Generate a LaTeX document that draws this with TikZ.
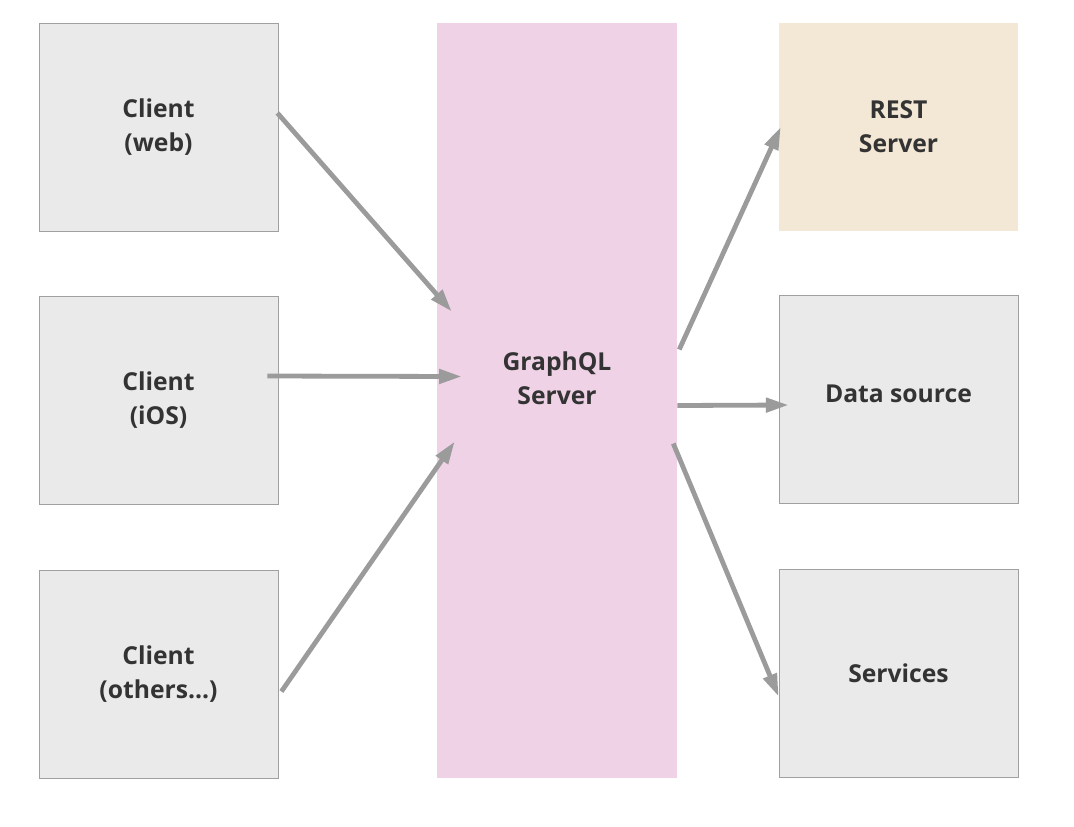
\documentclass[tikz,border=0pt]{standalone}
\usepackage{fontspec}
\setmainfont{Open Sans}
\usetikzlibrary{arrows.meta}
\definecolor{boxgrey}{RGB}{234,234,234}
\definecolor{edgegrey}{RGB}{160,160,160}
\definecolor{arrowgrey}{RGB}{155,155,155}
\definecolor{gqlpink}{RGB}{240,210,231}
\definecolor{restbeige}{RGB}{243,231,214}
\definecolor{txtdark}{RGB}{51,51,51}
\tikzset{
	greybox/.style={draw=edgegrey, line width=0.6pt, fill=boxgrey, minimum width=179.25pt, minimum height=156pt, inner sep=0pt},
	pinkbox/.style={fill=gqlpink, minimum width=180pt, minimum height=566.25pt, inner sep=0pt},
	restbox/.style={fill=restbeige, minimum width=179.25pt, minimum height=156pt, inner sep=0pt},
	boxtext/.style={text=txtdark, font=\fontsize{18.5}{25.5}\selectfont\bfseries, align=center},
	flow/.style={draw=arrowgrey, line width=3.6pt, -{Triangle[length=17pt,width=10.5pt]}}
}

\begin{document}
\begin{tikzpicture}[x=0.75pt, y=-0.75pt]
		%%%%% START %%%%%
		\useasboundingbox (0,0) rectangle (1074,826);
		
		\node[greybox, boxtext] (web) at (158.5,127) {Client\\(web)};
		\node[greybox, boxtext] (ios) at (158.5,400) {Client\\(iOS)};
		\node[greybox, boxtext] (others) at (158.5,674.5) {Client\\(others...)};
		
		\node[pinkbox] (gql) at (557,400.5) {};
		\node[boxtext] (gqllabel) at (557,378) {GraphQL\\Server};
		
		\node[restbox, boxtext] (rest) at (898.5,127) {REST\\Server};
		\node[greybox] (data) at (898.5,399) {};
		\node[boxtext] (datalabel) at (898.5,394) {Data source};
		\node[greybox, boxtext] (services) at (898.5,673.5) {Services};
		
		\draw[flow] ([shift={(-1,-14)}]web.east) -- ([shift={(15,-89)}]gql.west);
		\draw[flow] ([shift={(-11,-24)}]ios.east) -- ([shift={(25,-24)}]gql.west);
		\draw[flow] ([shift={(3,17)}]others.east) -- ([shift={(18,41)}]gql.west);
		
		\draw[flow] ([shift={(2,-51)}]gql.east) -- ([shift={(2,0)}]rest.west);
		\draw[flow] ([shift={(0,5)}]gql.east) -- ([shift={(10,6)}]data.west);
		\draw[flow] ([shift={(-4,43)}]gql.east) -- ([shift={(0,23)}]services.west);
		
		%%%%% END %%%%%
	\end{tikzpicture}
\end{document}
